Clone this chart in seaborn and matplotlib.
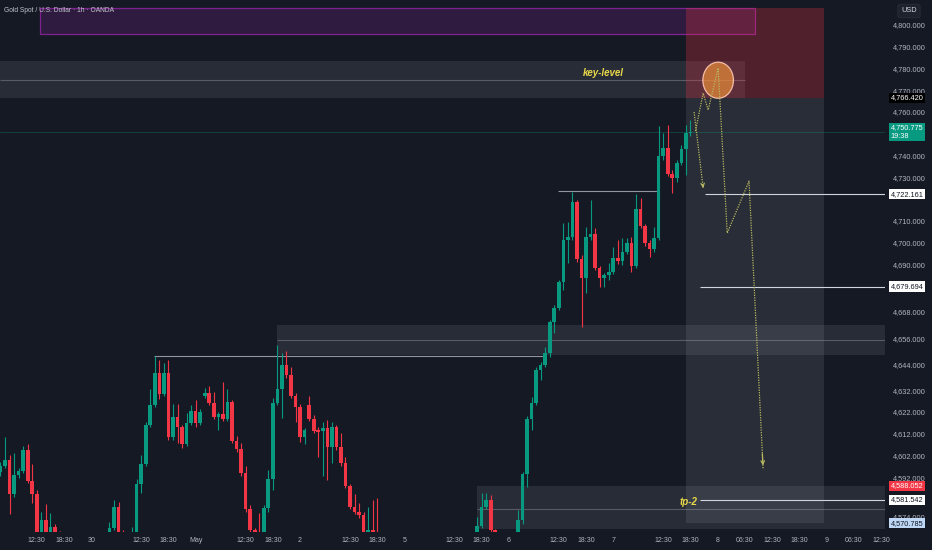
import numpy as np
import pandas as pd
import matplotlib
matplotlib.use("Agg")
import matplotlib.pyplot as plt
import seaborn as sns
from matplotlib.patches import Rectangle, Ellipse
from matplotlib.transforms import blended_transform_factory

# ---------------- data ----------------
bar_index = list(range(-20, 133))  # 1h bars, 0 = first bar of Apr 30

opens = [4594.4, 4597.1, 4599.9, 4584.3, 4593.0, 4594.8, 4604.5, 4590.2, 4584.3, 4565.9,
         4572.3, 4565.9, 4569.1, 4565.9, 4563.1, 4558.0, 4553.5, 4555.0, 4550.5, 4554.0,
         4556.0, 4557.5, 4559.5, 4561.5, 4563.5, 4568.6, 4578.3, 4566.3, 4565.4, 4564.0,
         4566.3, 4588.9, 4598.1, 4616.0, 4625.2, 4639.9, 4630.3, 4639.9, 4610.5, 4619.7,
         4615.1, 4607.3, 4616.9, 4622.4, 4616.9, 4629.3, 4630.7, 4626.1, 4619.7, 4621.1,
         4618.8, 4626.6, 4608.6, 4605.0, 4593.9, 4577.4, 4567.7, 4566.3, 4563.1, 4577.8,
         4591.2, 4626.1, 4632.6, 4643.6, 4639.0, 4629.3, 4624.3, 4610.5, 4625.2, 4618.8,
         4613.7, 4613.2, 4614.6, 4605.9, 4615.1, 4605.9, 4598.5, 4587.9, 4578.3, 4576.0,
         4574.6, 4565.9, 4567.7, 4565.9, 4564.0, 4560.0, 4557.0, 4554.5, 4556.0, 4553.0,
         4549.0, 4544.0, 4547.5, 4551.0, 4549.5, 4552.5, 4555.5, 4553.5, 4556.5, 4558.5,
         4557.0, 4559.5, 4561.0, 4560.0, 4561.5, 4563.5, 4569.5, 4578.3, 4581.5, 4567.7,
         4566.3, 4561.0, 4557.5, 4560.5, 4565.9, 4572.3, 4593.5, 4618.8, 4626.1, 4641.3,
         4643.6, 4649.1, 4663.4, 4669.8, 4681.8, 4701.1, 4702.5, 4718.6, 4692.4, 4683.6,
         4702.5, 4703.9, 4688.2, 4683.6, 4685.0, 4686.4, 4692.8, 4691.4, 4695.6, 4699.7,
         4689.1, 4715.4, 4707.5, 4699.7, 4696.9, 4702.0, 4739.7, 4743.4, 4731.5, 4729.6,
         4736.5, 4742.9, 4750.3]

highs = [4599.0, 4610.5, 4602.2, 4603.1, 4596.2, 4606.3, 4607.3, 4598.1, 4586.1, 4576.0,
         4579.7, 4575.5, 4570.5, 4567.2, 4565.0, 4560.0, 4557.0, 4556.5, 4556.0, 4557.5,
         4559.0, 4561.0, 4563.0, 4565.0, 4571.4, 4581.5, 4580.6, 4567.7, 4566.3, 4569.1,
         4591.2, 4602.2, 4617.4, 4632.6, 4647.7, 4645.9, 4644.5, 4645.9, 4625.7, 4625.7,
         4616.0, 4621.5, 4625.2, 4627.5, 4623.4, 4633.0, 4633.9, 4631.2, 4622.0, 4635.8,
         4632.6, 4627.5, 4610.9, 4607.7, 4597.1, 4579.2, 4568.6, 4575.5, 4579.2, 4595.3,
         4628.4, 4652.8, 4649.1, 4650.0, 4642.7, 4630.7, 4625.7, 4614.6, 4629.3, 4620.6,
         4615.1, 4617.4, 4618.3, 4617.4, 4616.0, 4612.3, 4601.3, 4588.9, 4584.3, 4580.1,
         4576.0, 4578.3, 4581.5, 4582.4, 4566.0, 4562.5, 4560.0, 4558.0, 4559.0, 4557.0,
         4553.0, 4550.0, 4553.0, 4556.0, 4554.0, 4558.0, 4560.0, 4557.5, 4561.0, 4562.0,
         4561.5, 4563.5, 4564.5, 4563.0, 4565.0, 4573.7, 4584.7, 4584.7, 4583.8, 4568.2,
         4567.0, 4563.0, 4562.0, 4566.5, 4576.9, 4594.4, 4620.1, 4628.9, 4642.7, 4645.0,
         4651.9, 4664.3, 4671.2, 4682.7, 4708.9, 4709.4, 4723.2, 4719.5, 4694.2, 4707.1,
         4719.5, 4706.6, 4689.1, 4685.9, 4690.5, 4697.9, 4701.1, 4702.0, 4702.0, 4702.5,
         4722.3, 4720.4, 4708.5, 4701.1, 4707.1, 4753.5, 4750.3, 4754.0, 4733.3, 4737.9,
         4744.8, 4754.0, 4756.3]

lows = [4592.5, 4596.2, 4575.1, 4582.9, 4591.6, 4593.9, 4589.3, 4580.1, 4563.1, 4564.0,
        4564.9, 4564.9, 4564.0, 4560.8, 4556.0, 4551.0, 4550.0, 4548.0, 4549.0, 4552.0,
        4553.5, 4555.0, 4558.0, 4560.0, 4562.0, 4567.7, 4565.4, 4563.1, 4560.8, 4562.2,
        4564.9, 4584.7, 4597.1, 4615.1, 4624.3, 4628.0, 4629.3, 4609.1, 4609.1, 4607.7,
        4605.4, 4606.3, 4616.0, 4615.1, 4616.0, 4628.4, 4625.2, 4618.8, 4613.7, 4617.8,
        4617.8, 4607.7, 4603.6, 4592.5, 4576.0, 4566.8, 4563.1, 4560.8, 4560.8, 4576.0,
        4586.1, 4625.2, 4619.2, 4637.6, 4628.4, 4617.4, 4608.2, 4607.3, 4617.8, 4612.3,
        4601.3, 4592.5, 4590.7, 4598.5, 4604.5, 4597.1, 4587.0, 4577.4, 4575.1, 4573.2,
        4564.0, 4564.0, 4564.5, 4562.2, 4558.0, 4555.0, 4552.0, 4550.0, 4551.5, 4546.0,
        4541.0, 4540.0, 4545.0, 4548.0, 4544.0, 4550.0, 4552.0, 4549.0, 4554.0, 4555.5,
        4553.0, 4557.0, 4558.0, 4556.0, 4559.0, 4562.6, 4568.6, 4577.4, 4566.8, 4564.9,
        4559.0, 4555.0, 4555.0, 4559.0, 4564.9, 4570.5, 4587.5, 4613.7, 4625.2, 4636.7,
        4642.7, 4647.3, 4658.3, 4668.9, 4678.1, 4690.5, 4701.1, 4691.0, 4661.1, 4676.7,
        4701.1, 4687.3, 4679.5, 4679.5, 4682.7, 4685.5, 4690.1, 4689.6, 4694.7, 4686.4,
        4688.2, 4706.6, 4698.3, 4693.3, 4695.6, 4701.1, 4737.9, 4730.5, 4722.7, 4727.8,
        4735.6, 4731.0, 4748.9]

closes = [4597.1, 4599.9, 4584.3, 4593.0, 4594.8, 4604.5, 4590.2, 4584.3, 4565.9, 4572.3,
          4565.9, 4569.1, 4565.9, 4563.1, 4558.0, 4553.5, 4555.0, 4550.5, 4554.0, 4556.0,
          4557.5, 4559.5, 4561.5, 4563.5, 4568.6, 4578.3, 4566.3, 4565.4, 4564.0, 4566.3,
          4588.9, 4598.1, 4616.0, 4625.2, 4639.9, 4630.3, 4639.9, 4610.5, 4619.7, 4615.1,
          4607.3, 4616.9, 4622.4, 4616.9, 4622.0, 4630.7, 4626.1, 4619.7, 4621.1, 4618.8,
          4626.6, 4608.6, 4605.0, 4593.9, 4577.4, 4567.7, 4566.3, 4563.1, 4577.8, 4591.2,
          4626.1, 4632.6, 4643.6, 4639.0, 4629.3, 4624.3, 4610.5, 4613.7, 4618.8, 4613.2,
          4612.8, 4614.6, 4605.9, 4615.1, 4605.9, 4598.5, 4587.9, 4578.3, 4576.0, 4574.6,
          4565.9, 4567.7, 4565.9, 4564.0, 4560.0, 4557.0, 4554.5, 4556.0, 4553.0, 4549.0,
          4544.0, 4547.5, 4551.0, 4549.5, 4552.5, 4555.5, 4553.5, 4556.5, 4558.5, 4557.0,
          4559.5, 4561.0, 4560.0, 4561.5, 4563.5, 4569.5, 4578.3, 4581.5, 4567.7, 4566.3,
          4561.0, 4557.5, 4560.5, 4565.9, 4572.3, 4593.5, 4618.8, 4626.1, 4641.3, 4643.6,
          4649.1, 4663.4, 4669.8, 4681.8, 4701.1, 4702.5, 4718.6, 4692.4, 4683.6, 4702.5,
          4703.9, 4688.2, 4683.6, 4685.0, 4686.4, 4692.8, 4691.4, 4695.6, 4699.7, 4689.1,
          4715.4, 4707.5, 4699.7, 4696.9, 4702.0, 4739.7, 4743.4, 4731.5, 4729.6, 4736.5,
          4742.9, 4750.3, 4750.775]

time_tick_pos = [-12, -6, 0, 11, 17, 23, 34, 40, 46, 57, 63, 69, 80, 86, 92, 103, 109,
                 115, 126, 132, 138, 144, 150, 156, 162, 168, 174]
time_tick_labels = ["12:30", "18:30", "30", "12:30", "18:30", "May", "12:30", "18:30", "2",
                    "12:30", "18:30", "5", "12:30", "18:30", "6", "12:30", "18:30", "7",
                    "12:30", "18:30", "8", "06:30", "12:30", "18:30", "9", "06:30", "12:30"]
price_ticks = [4800, 4790, 4780, 4770, 4760, 4740, 4730, 4710, 4700, 4690, 4668, 4656,
               4644, 4632, 4622, 4612, 4602, 4592, 4574]

# price levels / drawings
current_price = 4750.775
entry_price = 4766.420
stop_price = 4807.8
target_price = 4570.785
level_4722 = 4722.161
level_4679 = 4679.694
tp2_price = 4581.542
zone_low_top = 4588.052
purple_box = dict(x0=-11.3, x1=146.2, y0=4795.9, y1=4807.8)
key_band = dict(x0=-20.2, x1=144.0, y0=4766.4, y1=4783.4, mid=4774.7)
mid_zone = dict(x0=40.9, x1=176, y0=4648.2, y1=4662.0, mid=4655.1)
low_zone = dict(x0=85.0, x1=176, y0=4568.2, y1=zone_low_top, mid=4577.4)
position_x = (131.0, 161.4)
swing_lines = [(13.8, 100.0, 4647.7), (102.8, 124.9, 4723.5)]
proj_x = [133.1, 134.8, 135.9, 138.1, 140.1, 144.9, 148.0]
proj_y = [4751.2, 4768.7, 4760.9, 4780.2, 4704.3, 4728.2, 4596.1]
proj2_x = [132.8, 134.8]
proj2_y = [4760.0, 4725.0]
circle_c = (138.1, 4774.6)
circle_wh = (6.74, 16.6)

# ---------------- style ----------------
BG = "#151924"
GREEN = "#089981"
RED = "#f23645"
TXT = "#b2b5be"
YEL = "#e9d84a"
sns.set_theme(style="dark", rc={"axes.facecolor": BG, "figure.facecolor": BG,
                                "axes.grid": False})
plt.rcParams["font.family"] = ["Liberation Sans", "DejaVu Sans"]

fig = plt.figure(figsize=(9.32, 5.5), dpi=100)
ax = fig.add_axes([0, 18 / 550, 885 / 932, 532 / 550])
ax.set_facecolor(BG)
for s in ax.spines.values():
    s.set_visible(False)
ax.set_xlim(-20.11, 174.86)
ax.set_ylim(4566.8, 4811.5)

# zones
def rect(x0, x1, y0, y1, **kw):
    ax.add_patch(Rectangle((x0, y0), x1 - x0, y1 - y0, **kw))

rect(key_band["x0"], key_band["x1"], key_band["y0"], key_band["y1"],
     fc="#787b86", alpha=0.2, ec="none", zorder=1)
ax.hlines(key_band["mid"], key_band["x0"], key_band["x1"], color="#787b86", lw=0.8,
          alpha=0.6, zorder=1)
rect(purple_box["x0"], purple_box["x1"], purple_box["y0"], purple_box["y1"],
     fc=(0.61, 0.15, 0.69, 0.2), ec=(0.61, 0.15, 0.69, 0.75), lw=0.9, zorder=1)
for z in (mid_zone, low_zone):
    rect(z["x0"], z["x1"], z["y0"], z["y1"], fc="#787b86", alpha=0.2, ec="none", zorder=1)
    ax.hlines(z["mid"], z["x0"], z["x1"], color="#787b86", lw=0.8, alpha=0.6, zorder=1)
rect(position_x[0], position_x[1], entry_price, stop_price, fc=RED, alpha=0.27,
     ec="none", zorder=1.5)
rect(position_x[0], position_x[1], target_price, entry_price, fc="#b2b5be", alpha=0.13,
     ec="none", zorder=1.5)

ax.axhline(current_price, color=GREEN, lw=0.6, alpha=0.35, zorder=1.6)
for x0, x1, y in swing_lines:
    ax.hlines(y, x0, x1, color="#b2b5be", lw=0.8, alpha=0.8, zorder=2)
ax.hlines(level_4722, 135.2, 176, color="#d1d4dc", lw=0.8, zorder=2)
ax.hlines(level_4679, 134.1, 176, color="#d1d4dc", lw=0.8, zorder=2)
ax.hlines(tp2_price, 134.1, 176, color="#d1d4dc", lw=0.8, zorder=2)

# candles
df = pd.DataFrame({"i": bar_index, "o": opens, "h": highs, "l": lows, "c": closes})
up = df["c"] >= df["o"]
cols = np.where(up, GREEN, RED)
top = np.maximum.reduce([df["h"], df["o"], df["c"]])
bot = np.minimum.reduce([df["l"], df["o"], df["c"]])
ax.vlines(df["i"], bot, top, colors=cols, lw=0.8, zorder=3)
body = (df["c"] - df["o"]).abs().clip(lower=0.5)
ax.bar(df["i"], body, bottom=np.minimum(df["o"], df["c"]), width=0.8, color=cols,
       linewidth=0, zorder=4)

# circle + projection
ax.add_patch(Ellipse(circle_c, circle_wh[0], circle_wh[1], fc=(0.98, 0.6, 0.22, 0.62),
                     ec=(1.0, 0.78, 0.7, 0.9), lw=0.9, zorder=5))
PROJ = "#b9b862"
sns.lineplot(x=proj_x, y=proj_y, sort=False, estimator=None, ax=ax, color=PROJ,
             lw=0.9, linestyle=(0, (1, 1)), zorder=6)
sns.lineplot(x=proj2_x, y=proj2_y, sort=False, estimator=None, ax=ax, color=PROJ,
             lw=0.9, linestyle=(0, (1, 1)), zorder=6)
for xs, ys in ((proj_x, proj_y), (proj2_x, proj2_y)):
    ex, ey = xs[-1], ys[-1]
    px, py = xs[-2], ys[-2]
    ax.annotate("", xy=(ex, ey), xytext=(ex - (ex - px) * 0.06, ey - (ey - py) * 0.06),
                arrowprops=dict(arrowstyle="->", color=PROJ, lw=0.9,
                                mutation_scale=6), zorder=6)

ax.text(112.9, 4777.9, "key-level", color=YEL, fontsize=7, fontweight="bold",
        style="italic", ha="center", va="center", zorder=7)
ax.text(131.5, 4580.8, "tp-2", color=YEL, fontsize=7, fontweight="bold",
        style="italic", ha="center", va="center", zorder=7)

# axes ticks
ax.yaxis.tick_right()
ax.set_yticks(price_ticks)
ax.set_yticklabels([f"{v:,.3f}" for v in price_ticks])
ax.tick_params(axis="y", length=0, pad=5.5, labelsize=5.3, labelcolor=TXT)
ax.set_xticks(time_tick_pos)
ax.set_xticklabels(time_tick_labels)
ax.tick_params(axis="x", length=0, pad=3.5, labelsize=5.0, labelcolor=TXT)
ax.set_xlabel("")
ax.set_ylabel("")

# badges on price scale
trans = blended_transform_factory(ax.transAxes, ax.transData)
def badge(price, text, fc, tc):
    ax.text(1.0 + 5.5 / 885, price, text, transform=trans, ha="left", va="center",
            fontsize=5.3, color=tc, linespacing=1.25,
            bbox=dict(boxstyle="square,pad=0.22", fc=fc, ec="none"),
            clip_on=False, zorder=10)

badge(entry_price, f"{entry_price:,.3f}", "#000000", "#ffffff")
badge(current_price, f"{current_price:,.3f}\n19:38", GREEN, "#ffffff")
badge(level_4722, f"{level_4722:,.3f}", "#ffffff", "#131722")
badge(level_4679, f"{level_4679:,.3f}", "#ffffff", "#131722")
badge(zone_low_top, f"{zone_low_top:,.3f}", RED, "#ffffff")
badge(tp2_price, f"{tp2_price:,.3f}", "#ffffff", "#131722")
badge(target_price, f"{target_price:,.3f}", "#bdd7f5", "#131722")

fig.text(909 / 932, 1 - 11 / 550, "USD", fontsize=5.3, color="#d1d4dc", ha="center",
         va="center", bbox=dict(boxstyle="round,pad=0.45,rounding_size=0.3",
                                fc="#1e222d", ec="#2a2e39", lw=0.6))
fig.text(4 / 932, 1 - 10 / 550, "Gold Spot / U.S. Dollar · 1h · OANDA", fontsize=4.8,
         color="#c3c6ce", ha="left", va="center")

fig.savefig("out.png", dpi=100, facecolor=BG)
